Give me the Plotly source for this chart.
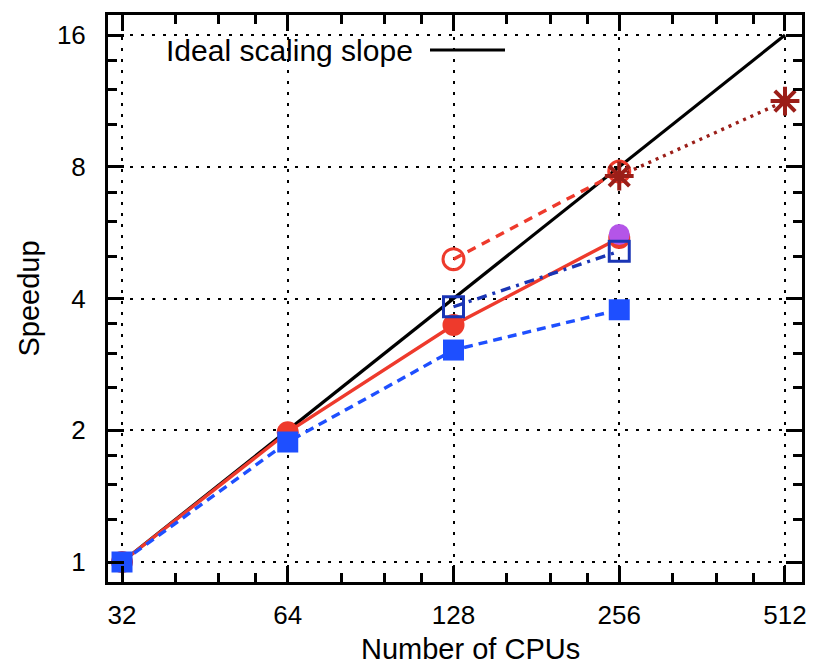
import plotly.graph_objects as go

# ---- data ----
cpus_ideal = [32, 64, 128, 256, 512]
speed_ideal = [1, 2, 4, 8, 16]

cpus_red = [32, 64, 128, 256]
speed_red = [1, 1.98, 3.48, 5.5]

cpus_blue = [32, 64, 128, 256]
speed_blue = [1, 1.88, 3.05, 3.77]

cpus_blue_open = [128, 256]
speed_blue_open = [3.83, 5.13]

cpus_red_open = [128, 256]
speed_red_open = [4.92, 7.8]

cpus_star = [256, 512]
speed_star = [7.62, 11.3]

cpus_purple = [256]
speed_purple = [5.6]

x_ticks = [32, 64, 128, 256, 512]
y_ticks = [1, 2, 4, 8, 16]
x_minor = [40, 48, 56, 80, 96, 112, 160, 192, 224, 320, 384, 448]
y_minor = [1.25, 1.5, 1.75, 2.5, 3, 3.5, 5, 6, 7, 10, 12, 14]

RED = "#EE3A2C"
BLUE = "#1E4FFF"
DBLUE = "#1A35B5"
DRED = "#9B1E18"
PURPLE = "#B455E8"
FONT = "Liberation Sans, Arial, sans-serif"

fig = go.Figure()
fig.add_trace(go.Scatter(x=cpus_ideal, y=speed_ideal, mode="lines",
                         line=dict(color="black", width=3.2), showlegend=False))
fig.add_trace(go.Scatter(x=cpus_red, y=speed_red, mode="lines+markers",
                         line=dict(color=RED, width=3.4),
                         marker=dict(symbol="circle", size=22, color=RED), showlegend=False))
fig.add_trace(go.Scatter(x=cpus_blue, y=speed_blue, mode="lines+markers",
                         line=dict(color=BLUE, width=3.4, dash="9px,6px"),
                         marker=dict(symbol="square", size=21, color=BLUE), showlegend=False))
fig.add_trace(go.Scatter(x=cpus_purple, y=speed_purple, mode="markers",
                         marker=dict(symbol="circle", size=21, color=PURPLE), showlegend=False))
fig.add_trace(go.Scatter(x=cpus_blue_open, y=speed_blue_open, mode="lines+markers",
                         line=dict(color=DBLUE, width=3.4, dash="10px,6px,3px,6px"),
                         marker=dict(symbol="square-open", size=20, color=DBLUE,
                                     line=dict(width=3, color=DBLUE)), showlegend=False))
fig.add_trace(go.Scatter(x=cpus_red_open, y=speed_red_open, mode="lines+markers",
                         line=dict(color=RED, width=3.4, dash="9px,7px"),
                         marker=dict(symbol="circle-open", size=21, color=RED,
                                     line=dict(width=3, color=RED)), showlegend=False))
fig.add_trace(go.Scatter(x=cpus_star, y=speed_star, mode="lines+markers",
                         line=dict(color=DRED, width=3.4, dash="3px,5px"),
                         marker=dict(symbol="asterisk-open", size=24, color=DRED,
                                     line=dict(width=4, color=DRED)), showlegend=False))

L2 = 0.30102999566
axis_common = dict(
    type="log", showline=True, linewidth=3, linecolor="black", mirror="allticks",
    ticks="inside", ticklen=16, tickwidth=3, tickcolor="black", automargin=False,
    showgrid=True, gridcolor="black", gridwidth=2, griddash="3px,8px",
    zeroline=False, tickfont=dict(family=FONT, size=26, color="black"),
)
fig.update_xaxes(**axis_common, range=[4.9155 * L2, 9.1026 * L2],
                 tickvals=x_ticks, ticktext=[str(v) for v in x_ticks],
                 minor=dict(tickvals=x_minor, ticks="inside", ticklen=9, tickwidth=3,
                            tickcolor="black", showgrid=False),
                 ticklabelstandoff=8)
fig.update_yaxes(**axis_common, range=[-0.1518 * L2, 4.1518 * L2],
                 tickvals=y_ticks, ticktext=[str(v) for v in y_ticks],
                 minor=dict(tickvals=y_minor, ticks="inside", ticklen=9, tickwidth=3,
                            tickcolor="black", showgrid=False),
                 ticklabelstandoff=14,
                 title=dict(text="Speedup", font=dict(family=FONT, size=29, color="black"),
                            standoff=9))

# opaque key box
pw, ph = 694.0, 567.0
def px(x):
    return (x - 108) / pw
def py(y):
    return (582 - y) / ph

fig.add_shape(type="rect", xref="paper", yref="paper", layer="between",
              x0=px(128), x1=px(522), y0=py(68), y1=1.0,
              fillcolor="white", line=dict(width=0))
fig.add_shape(type="line", xref="paper", yref="paper",
              x0=px(430), x1=px(505), y0=py(50), y1=py(50),
              line=dict(color="black", width=3))
fig.add_annotation(text="Ideal scaling slope", xref="paper", yref="paper",
                   x=px(164), y=py(50), xanchor="left", yanchor="middle", showarrow=False,
                   font=dict(family=FONT, size=30, color="black"))
fig.add_annotation(text="Number of CPUs", xref="paper", yref="paper",
                   x=px(470), y=py(667), xanchor="center", yanchor="bottom", showarrow=False,
                   font=dict(family=FONT, size=29, color="black"))

fig.update_layout(
    width=816, height=668,
    margin=dict(l=108, r=14, t=15, b=86),
    paper_bgcolor="white", plot_bgcolor="white",
    showlegend=False,
)

fig.write_html("out.html", config={"displayModeBar": False},
               post_script="document.body.style.margin='0px';document.body.style.overflow='hidden';")
